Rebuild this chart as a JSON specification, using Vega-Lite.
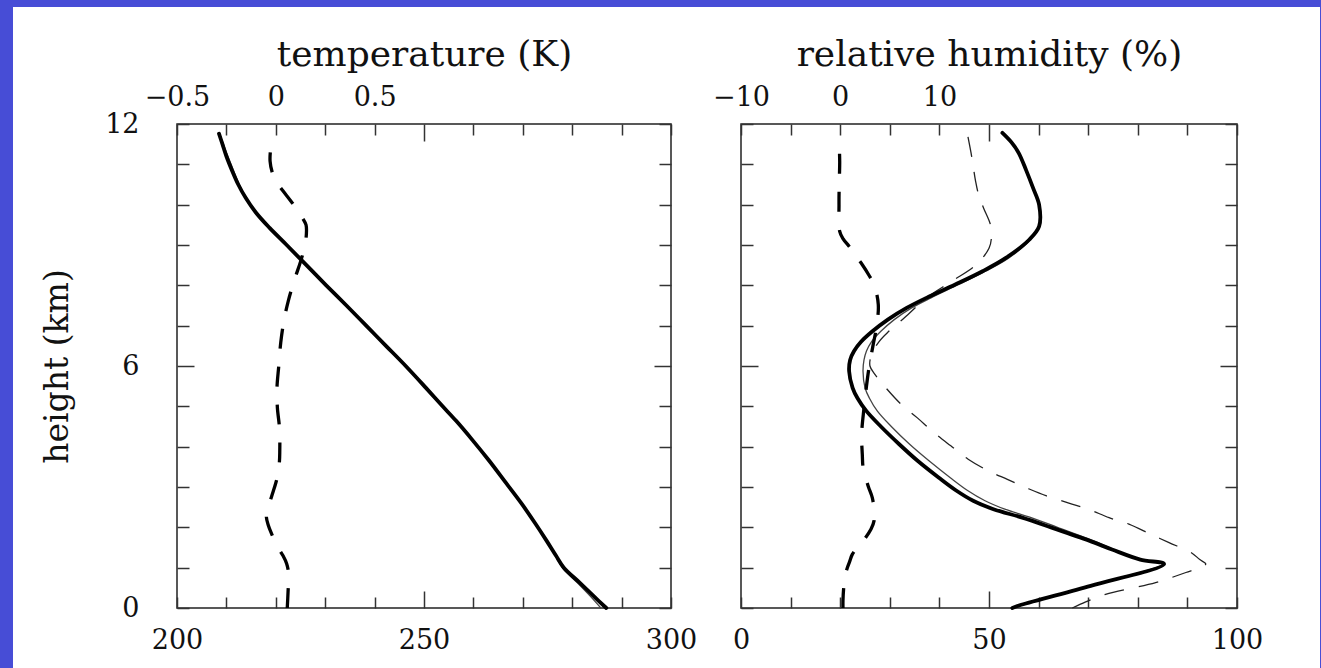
{
  "$schema": "https://vega.github.io/schema/vega-lite/v6.json",
  "background": "white",
  "padding": 0,
  "spacing": 0,
  "config": {
    "font": "DejaVu Serif",
    "view": {"stroke": "#222", "strokeWidth": 1.5},
    "axis": {
      "domain": false, "grid": false, "tickColor": "#333", "tickWidth": 1.5,
      "labelFont": "DejaVu Serif", "labelFontSize": 27, "labelColor": "#111",
      "labelFlush": false, "labelOverlap": false, "labelBound": false,
      "titleFont": "DejaVu Serif", "titleFontSize": 33, "titleFontWeight": "normal", "titleColor": "#111"
    }
  },
  "datasets": {
    "tK1": [
      {"h":0,"v":286.9},{"h":0.3,"v":284.3},{"h":0.63,"v":281.5},{"h":1.0,"v":278.3},{"h":1.3,"v":276.7},{"h":1.67,"v":274.8},{"h":2.1,"v":272.5},{"h":2.58,"v":269.8},{"h":3.1,"v":266.6},{"h":3.65,"v":263.2},{"h":4.15,"v":259.9},{"h":4.64,"v":256.5},{"h":5.05,"v":253.4},{"h":5.47,"v":250.3},{"h":6.0,"v":246.3},{"h":6.5,"v":242.3},{"h":7.0,"v":238.3},{"h":7.5,"v":234.3},{"h":8.0,"v":230.2},{"h":8.5,"v":226.2},{"h":9.0,"v":222.2},{"h":9.43,"v":218.7},{"h":9.8,"v":216.0},{"h":10.17,"v":213.9},{"h":10.5,"v":212.4},{"h":10.83,"v":211.2},{"h":11.2,"v":210.0},{"h":11.5,"v":209.2},{"h":11.76,"v":208.5}
    ],
    "tK2": [
      {"h":0,"v":285.8},{"h":0.3,"v":283.6},{"h":0.63,"v":281.0},{"h":1.0,"v":278.0},{"h":1.3,"v":276.6},{"h":1.67,"v":274.8},{"h":2.1,"v":272.5},{"h":2.58,"v":269.8},{"h":3.1,"v":266.6},{"h":3.65,"v":263.2},{"h":4.15,"v":259.9},{"h":4.64,"v":256.5},{"h":5.05,"v":253.4},{"h":5.47,"v":250.3},{"h":6.0,"v":246.3},{"h":6.5,"v":242.3},{"h":7.0,"v":238.3},{"h":7.5,"v":234.3},{"h":8.0,"v":230.2},{"h":8.5,"v":226.2},{"h":9.0,"v":222.2},{"h":9.43,"v":218.7},{"h":9.8,"v":216.0},{"h":10.17,"v":214.0},{"h":10.5,"v":212.6},{"h":10.83,"v":211.5},{"h":11.2,"v":210.3},{"h":11.5,"v":209.4},{"h":11.76,"v":208.6}
    ],
    "dT": [
      {"h":0,"v":0.058},{"h":0.4,"v":0.062},{"h":0.84,"v":0.065},{"h":1.1,"v":0.055},{"h":1.3,"v":0.036},{"h":1.55,"v":0.005},{"h":1.79,"v":-0.017},{"h":2.05,"v":-0.038},{"h":2.29,"v":-0.048},{"h":2.55,"v":-0.035},{"h":2.83,"v":-0.017},{"h":3.1,"v":0.0},{"h":3.32,"v":0.011},{"h":3.6,"v":0.018},{"h":3.85,"v":0.02},{"h":4.44,"v":0.019},{"h":4.97,"v":0.008},{"h":5.46,"v":0.006},{"h":6.0,"v":0.015},{"h":6.58,"v":0.025},{"h":7.12,"v":0.041},{"h":7.61,"v":0.063},{"h":8.16,"v":0.096},{"h":8.6,"v":0.126},{"h":9.0,"v":0.148},{"h":9.3,"v":0.155},{"h":9.5,"v":0.153},{"h":9.68,"v":0.134},{"h":9.9,"v":0.105},{"h":10.13,"v":0.07},{"h":10.35,"v":0.035},{"h":10.57,"v":0.003},{"h":10.8,"v":-0.018},{"h":11.08,"v":-0.029},{"h":11.35,"v":-0.027},{"h":11.62,"v":-0.021}
    ],
    "rh1": [
      {"h":0,"v":54.7},{"h":0.08,"v":56.5},{"h":0.55,"v":70.5},{"h":1.09,"v":85.3},{"h":1.2,"v":80.5},{"h":1.45,"v":74.8},{"h":1.67,"v":70.2},{"h":2.0,"v":62.5},{"h":2.24,"v":56.7},{"h":2.45,"v":50.9},{"h":2.66,"v":46.8},{"h":2.92,"v":43.3},{"h":3.23,"v":39.9},{"h":3.65,"v":35.6},{"h":4.06,"v":31.9},{"h":4.5,"v":28.2},{"h":4.88,"v":25.3},{"h":5.2,"v":23.5},{"h":5.46,"v":22.5},{"h":5.87,"v":21.8},{"h":6.15,"v":22.0},{"h":6.37,"v":22.8},{"h":6.6,"v":24.2},{"h":6.86,"v":26.5},{"h":7.15,"v":29.6},{"h":7.44,"v":33.4},{"h":7.69,"v":37.4},{"h":8.02,"v":43.2},{"h":8.35,"v":48.7},{"h":8.68,"v":53.4},{"h":9.13,"v":58.1},{"h":9.46,"v":60.1},{"h":10.0,"v":60.1},{"h":10.41,"v":58.9},{"h":10.85,"v":57.5},{"h":11.28,"v":56.0},{"h":11.55,"v":54.5},{"h":11.78,"v":52.7}
    ],
    "rh2": [
      {"h":0,"v":54.5},{"h":0.08,"v":56.3},{"h":0.55,"v":70.3},{"h":1.09,"v":85.0},{"h":1.2,"v":80.6},{"h":1.45,"v":75.2},{"h":1.67,"v":71.0},{"h":2.0,"v":63.8},{"h":2.24,"v":58.5},{"h":2.45,"v":53.2},{"h":2.66,"v":49.2},{"h":2.92,"v":45.6},{"h":3.23,"v":42.2},{"h":3.65,"v":37.9},{"h":4.06,"v":34.0},{"h":4.5,"v":30.3},{"h":4.88,"v":27.5},{"h":5.2,"v":25.9},{"h":5.46,"v":25.0},{"h":5.87,"v":24.6},{"h":6.15,"v":24.8},{"h":6.37,"v":25.3},{"h":6.6,"v":26.3},{"h":6.86,"v":28.2},{"h":7.15,"v":30.9},{"h":7.44,"v":34.4},{"h":7.69,"v":38.3},{"h":8.02,"v":43.9},{"h":8.35,"v":49.3},{"h":8.68,"v":54.0},{"h":9.13,"v":58.3},{"h":9.46,"v":60.0},{"h":10.0,"v":60.0},{"h":10.41,"v":58.8},{"h":10.85,"v":57.4},{"h":11.28,"v":55.9},{"h":11.55,"v":54.4},{"h":11.78,"v":52.6}
    ],
    "rh3": [
      {"h":0,"v":66.8},{"h":0.15,"v":69.5},{"h":0.34,"v":73.5},{"h":0.63,"v":83.6},{"h":0.88,"v":89.7},{"h":1.0,"v":92.5},{"h":1.09,"v":93.7},{"h":1.2,"v":92.5},{"h":1.38,"v":90.7},{"h":1.62,"v":86.3},{"h":1.83,"v":82.6},{"h":2.08,"v":78.2},{"h":2.24,"v":74.2},{"h":2.45,"v":70.0},{"h":2.6,"v":66.1},{"h":2.78,"v":61.6},{"h":2.95,"v":58.1},{"h":3.19,"v":53.7},{"h":3.4,"v":49.9},{"h":3.69,"v":45.8},{"h":4.02,"v":42.3},{"h":4.35,"v":38.9},{"h":4.72,"v":35.5},{"h":5.05,"v":32.3},{"h":5.46,"v":29.2},{"h":5.79,"v":27.0},{"h":6.0,"v":26.0},{"h":6.28,"v":26.3},{"h":6.6,"v":27.8},{"h":6.86,"v":29.8},{"h":7.2,"v":33.0},{"h":7.69,"v":37.4},{"h":8.1,"v":42.5},{"h":8.51,"v":47.4},{"h":8.92,"v":50.0},{"h":9.2,"v":50.5},{"h":9.5,"v":50.3},{"h":9.92,"v":48.9},{"h":10.25,"v":47.9},{"h":10.58,"v":47.3},{"h":11.2,"v":46.5},{"h":11.78,"v":45.6}
    ],
    "dRH": [
      {"h":0,"v":0.28},{"h":0.18,"v":0.28},{"h":0.5,"v":0.35},{"h":0.79,"v":0.48},{"h":1.0,"v":0.72},{"h":1.15,"v":0.95},{"h":1.33,"v":1.22},{"h":1.55,"v":1.9},{"h":1.75,"v":2.57},{"h":1.95,"v":3.1},{"h":2.16,"v":3.41},{"h":2.45,"v":3.4},{"h":2.73,"v":3.24},{"h":3.0,"v":2.85},{"h":3.23,"v":2.57},{"h":3.5,"v":2.3},{"h":3.8,"v":2.23},{"h":4.3,"v":2.16},{"h":4.96,"v":2.4},{"h":5.5,"v":2.65},{"h":5.95,"v":2.9},{"h":6.5,"v":3.3},{"h":6.94,"v":3.64},{"h":7.52,"v":3.84},{"h":8.02,"v":3.41},{"h":8.25,"v":2.9},{"h":8.51,"v":2.23},{"h":8.75,"v":1.5},{"h":8.97,"v":0.89},{"h":9.15,"v":0.3},{"h":9.34,"v":-0.05},{"h":10.0,"v":-0.12},{"h":10.5,"v":-0.1},{"h":11.07,"v":-0.05},{"h":11.6,"v":-0.12}
    ]
  },
  "vconcat": [
    {"width": 1321, "height": 7, "data": {"values": []}, "mark": "point", "view": {"fill": "#474dd6", "stroke": null}},
    {
      "spacing": 27,
      "hconcat": [
        {"width": 13, "height": 661, "data": {"values": []}, "mark": "point", "view": {"fill": "#474dd6", "stroke": null}},
        {
          "spacing": 56,
          "hconcat": [
            {
              "spacing": 27,
              "vconcat": [
                {"width": 10, "height": 1, "data": {"values": []}, "mark": "point", "view": {"stroke": null}},
                {
                  "spacing": 70,
                  "bounds": "flush",
                  "hconcat": [
                    {
                      "width": 494, "height": 484,
                      "resolve": {"scale": {"x": "independent"}, "axis": {"x": "independent", "y": "independent"}},
                      "layer": [
                        {
                          "data": {"name": "tK2"},
                          "mark": {"type": "line", "stroke": "#444", "strokeWidth": 1.3, "interpolate": "catmull-rom"},
                          "encoding": {
                            "x": {"field": "v", "type": "quantitative", "scale": {"domain": [200, 300], "nice": false, "zero": false}, "axis": null},
                            "y": {"field": "h", "type": "quantitative", "scale": {"domain": [0, 12], "nice": false},
                              "axis": {"orient": "right", "title": null, "labels": false, "values": [0,1,2,3,4,5,6,7,8,9,10,11,12],
                                "tickSize": {"condition": {"test": "datum.value === 6", "value": -17}, "value": -12}}},
                            "order": {"field": "h", "type": "quantitative"}
                          }
                        },
                        {
                          "data": {"name": "tK1"},
                          "mark": {"type": "line", "stroke": "#000", "strokeWidth": 3.8, "strokeCap": "round", "strokeJoin": "round", "interpolate": "catmull-rom"},
                          "encoding": {
                            "x": {"field": "v", "type": "quantitative", "scale": {"domain": [200, 300], "nice": false, "zero": false},
                              "axis": {"orient": "bottom", "title": null, "values": [200,210,220,230,240,250,260,270,280,290,300],
                                "tickSize": {"condition": {"test": "datum.value === 250", "value": -17}, "value": -11},
                                "labelPadding": {"condition": {"test": "datum.value === 250", "value": 36}, "value": 30},
                                "labelExpr": "(datum.value === 200 || datum.value === 250 || datum.value === 300) ? datum.label : ''"}},
                            "y": {"field": "h", "type": "quantitative", "scale": {"domain": [0, 12], "nice": false},
                              "axis": {"orient": "left", "title": "height (km)", "titlePadding": 30, "values": [0,1,2,3,4,5,6,7,8,9,10,11,12],
                                "tickSize": {"condition": {"test": "datum.value === 6", "value": -17}, "value": -12},
                                "labelPadding": {"condition": {"test": "datum.value === 6", "value": 55}, "value": 50},
                                "labelExpr": "(datum.value % 6 === 0) ? datum.label : ''"}},
                            "order": {"field": "h", "type": "quantitative"}
                          }
                        },
                        {
                          "data": {"name": "dT"},
                          "mark": {"type": "line", "stroke": "#000", "strokeWidth": 3.3, "strokeDash": [20, 18], "interpolate": "catmull-rom"},
                          "encoding": {
                            "x": {"field": "v", "type": "quantitative", "scale": {"domain": [-0.5, 2.0], "nice": false, "zero": false},
                              "axis": {"orient": "top", "title": "temperature (K)", "titleFontSize": 36, "titlePadding": 10, "format": "~g",
                                "values": [-0.5,-0.25,0,0.25,0.5,0.75,1,1.25,1.5,1.75,2],
                                "tickSize": {"condition": {"test": "datum.value === 0.75", "value": -17}, "value": -11},
                                "labelPadding": 24,
                                "labelExpr": "(datum.value === -0.5 || datum.value === 0 || datum.value === 0.5) ? datum.label : ''"}},
                            "y": {"field": "h", "type": "quantitative", "scale": {"domain": [0, 12], "nice": false}, "axis": null},
                            "order": {"field": "h", "type": "quantitative"}
                          }
                        }
                      ]
                    },
                    {
                      "width": 496, "height": 484,
                      "resolve": {"scale": {"x": "independent"}, "axis": {"x": "independent", "y": "independent"}},
                      "layer": [
                        {
                          "data": {"name": "rh2"},
                          "mark": {"type": "line", "stroke": "#444", "strokeWidth": 1.3, "interpolate": "catmull-rom"},
                          "encoding": {
                            "x": {"field": "v", "type": "quantitative", "scale": {"domain": [0, 100], "nice": false, "zero": false}, "axis": null},
                            "y": {"field": "h", "type": "quantitative", "scale": {"domain": [0, 12], "nice": false},
                              "axis": {"orient": "right", "title": null, "labels": false, "values": [0,1,2,3,4,5,6,7,8,9,10,11,12],
                                "tickSize": {"condition": {"test": "datum.value === 6", "value": -17}, "value": -12}}},
                            "order": {"field": "h", "type": "quantitative"}
                          }
                        },
                        {
                          "data": {"name": "rh3"},
                          "mark": {"type": "line", "stroke": "#222", "strokeWidth": 1.3, "strokeDash": [20, 15], "interpolate": "catmull-rom"},
                          "encoding": {
                            "x": {"field": "v", "type": "quantitative", "scale": {"domain": [0, 100], "nice": false, "zero": false}, "axis": null},
                            "y": {"field": "h", "type": "quantitative", "scale": {"domain": [0, 12], "nice": false}, "axis": null},
                            "order": {"field": "h", "type": "quantitative"}
                          }
                        },
                        {
                          "data": {"name": "rh1"},
                          "mark": {"type": "line", "stroke": "#000", "strokeWidth": 3.8, "strokeCap": "round", "strokeJoin": "round", "interpolate": "catmull-rom"},
                          "encoding": {
                            "x": {"field": "v", "type": "quantitative", "scale": {"domain": [0, 100], "nice": false, "zero": false},
                              "axis": {"orient": "bottom", "title": null, "values": [0,10,20,30,40,50,60,70,80,90,100],
                                "tickSize": {"condition": {"test": "datum.value === 50", "value": -17}, "value": -11},
                                "labelPadding": {"condition": {"test": "datum.value === 50", "value": 36}, "value": 30},
                                "labelExpr": "(datum.value % 50 === 0) ? datum.label : ''"}},
                            "y": {"field": "h", "type": "quantitative", "scale": {"domain": [0, 12], "nice": false},
                              "axis": {"orient": "left", "title": null, "labels": false, "values": [0,1,2,3,4,5,6,7,8,9,10,11,12],
                                "tickSize": {"condition": {"test": "datum.value === 6", "value": -17}, "value": -12}}},
                            "order": {"field": "h", "type": "quantitative"}
                          }
                        },
                        {
                          "data": {"name": "dRH"},
                          "mark": {"type": "line", "stroke": "#000", "strokeWidth": 3.3, "strokeDash": [20, 18], "interpolate": "catmull-rom"},
                          "encoding": {
                            "x": {"field": "v", "type": "quantitative", "scale": {"domain": [-10, 40], "nice": false, "zero": false},
                              "axis": {"orient": "top", "title": "relative humidity (%)", "titleFontSize": 36, "titlePadding": 10, "format": "~g",
                                "values": [-10,-5,0,5,10,15,20,25,30,35,40],
                                "tickSize": {"condition": {"test": "datum.value === 15", "value": -17}, "value": -11},
                                "labelPadding": 24,
                                "labelExpr": "(datum.value === -10 || datum.value === 0 || datum.value === 10) ? datum.label : ''"}},
                            "y": {"field": "h", "type": "quantitative", "scale": {"domain": [0, 12], "nice": false}, "axis": null},
                            "order": {"field": "h", "type": "quantitative"}
                          }
                        }
                      ]
                    }
                  ]
                }
              ]
            },
            {"width": 3, "height": 661, "data": {"values": []}, "mark": "point", "view": {"fill": "#474dd6", "stroke": null}}
          ]
        }
      ]
    }
  ]
}
